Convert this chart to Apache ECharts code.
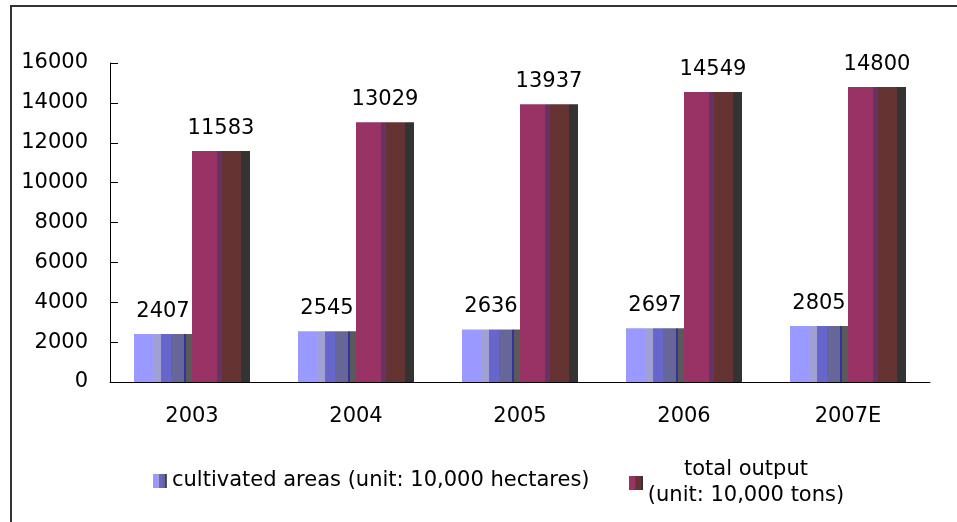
<!DOCTYPE html>
<html>
<head>
<meta charset="utf-8">
<script src="https://cdn.jsdelivr.net/npm/echarts@6/dist/echarts.min.js"></script>
<style>
  html, body { margin: 0; padding: 0; background: #fff; }
  #chart { width: 957px; height: 522px; }
</style>
</head>
<body>
<div id="chart"></div>
<script>
// data
const years = ['2003', '2004', '2005', '2006', '2007E']
const areaValues = [2407, 2545, 2636, 2697, 2805]
const outputValues = [11583, 13029, 13937, 14549, 14800]
const areaName = 'cultivated areas (unit: 10,000 hectares)'
const outputName = 'total output (unit: 10,000 tons)'

const font = 'DejaVu Sans'

// striped fills like the old 3d-ish office bars
function stripes(list) {
    const stops = []
    list.forEach((s, i) => {
        const end = i < list.length - 1 ? list[i + 1][0] : 1
        stops.push({ offset: s[0], color: s[1] })
        stops.push({ offset: end, color: s[1] })
    })
    return new echarts.graphic.LinearGradient(0, 0, 1, 0, stops)
}

const blueFill = stripes([
    [0, '#9999ff'],
    [0.32, '#a0a0d4'],
    [0.46, '#6666cc'],
    [0.63, '#666699'],
    [0.86, '#333399'],
    [0.9, '#5a5a5a']
])
const redFill = stripes([
    [0, '#993366'],
    [0.43, '#663366'],
    [0.52, '#663333'],
    [0.84, '#333333']
])

const chart = echarts.init(document.getElementById('chart'))

const labelStyle = {
    show: true,
    position: 'top',
    distance: 12,
    color: '#000',
    fontFamily: font,
    fontSize: 21
}

chart.setOption({
    animation: false,
    backgroundColor: '#fff',
    graphic: [
        {
            type: 'rect',
            shape: { x: 11, y: 6, width: 960, height: 530 },
            style: { fill: 'none', stroke: '#333', lineWidth: 2 },
            silent: true
        }
    ],
    grid: {
        left: 110,
        right: 27,
        top: 63,
        bottom: 140
    },
    legend: [
        {
            data: [areaName],
            left: 153,
            top: 468,
            padding: 0,
            icon: 'rect',
            itemWidth: 14,
            itemHeight: 14,
            textStyle: { fontFamily: font, fontSize: 21, color: '#000', lineHeight: 26 }
        },
        {
            data: [outputName],
            left: 629,
            top: 457,
            padding: 0,
            icon: 'rect',
            itemWidth: 14,
            itemHeight: 14,
            formatter: () => '{a|total output}\n{a|(unit: 10,000 tons)}',
            textStyle: {
                fontFamily: font,
                fontSize: 21,
                color: '#000',
                lineHeight: 26,
                rich: {
                    a: { width: 196, align: 'center', fontFamily: font, fontSize: 21, lineHeight: 26, color: '#000' }
                }
            }
        }
    ],
    xAxis: {
        type: 'category',
        data: years,
        axisLine: { lineStyle: { color: '#000', width: 1 } },
        axisTick: { inside: true, length: 7, lineStyle: { color: '#000' } },
        axisLabel: { margin: 24, color: '#000', fontFamily: font, fontSize: 21 }
    },
    yAxis: {
        type: 'value',
        min: 0,
        max: 16000,
        interval: 2000,
        axisLine: { show: true, lineStyle: { color: '#000', width: 1 } },
        axisTick: { show: true, inside: true, length: 8, lineStyle: { color: '#000' } },
        splitLine: { show: false },
        axisLabel: {
            margin: 22,
            color: '#000',
            fontFamily: font,
            fontSize: 21,
            formatter: (v) => String(v)
        }
    },
    series: [
        {
            name: areaName,
            type: 'bar',
            data: areaValues,
            barWidth: 58,
            barGap: '0%',
            itemStyle: { color: blueFill },
            label: labelStyle
        },
        {
            name: outputName,
            type: 'bar',
            data: outputValues,
            barWidth: 58,
            barGap: '0%',
            itemStyle: { color: redFill },
            label: labelStyle
        }
    ]
})
</script>
</body>
</html>
